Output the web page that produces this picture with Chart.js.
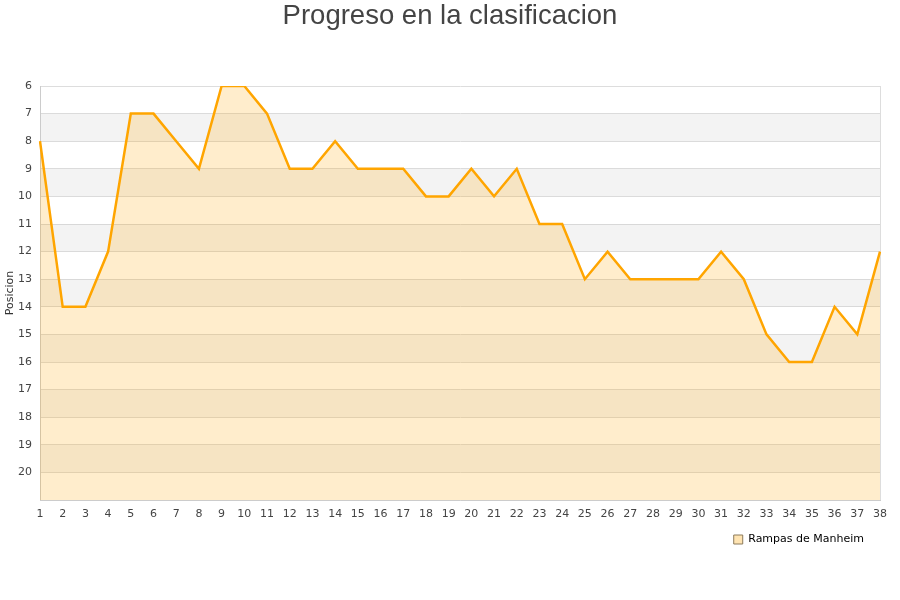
<!DOCTYPE html>
<html>
<head>
<meta charset="utf-8">
<title>Progreso en la clasificacion</title>
<script src="https://cdn.jsdelivr.net/npm/chart.js@4/dist/chart.umd.min.js"></script>
<style>
    html, body { margin: 0; padding: 0; background: #fff; }
    #wrap { width: 900px; height: 600px; }
</style>
</head>
<body>
<div id="wrap"><canvas id="posChart"></canvas></div>
<script>
    // Datos de la grafica
    const jornadas = ['1', '2', '3', '4', '5', '6', '7', '8', '9', '10',
        '11', '12', '13', '14', '15', '16', '17', '18', '19', '20',
        '21', '22', '23', '24', '25', '26', '27', '28', '29', '30',
        '31', '32', '33', '34', '35', '36', '37', '38'];
    const posiciones = [8, 14, 14, 12, 7, 7, 8, 9, 6, 6,
        7, 9, 9, 8, 9, 9, 9, 10, 10, 9,
        10, 9, 11, 11, 13, 12, 13, 13, 13, 13,
        12, 13, 15, 16, 16, 14, 15, 12];
    const equipo = 'Rampas de Manheim';
    const titulo = 'Progreso en la clasificacion';
    const tituloEje = 'Posicion';
    const posMin = 6;
    const posMax = 21;

    // Bandas alternas de fondo (gris / blanco) y borde derecho
    const bandas = {
        id: 'bandas',
        afterLayout(chart) {
            // titulo centrado en todo el lienzo
            if (chart.titleBlock) {
                chart.titleBlock.left = 0;
                chart.titleBlock.right = chart.width;
                chart.titleBlock.width = chart.width;
            }
            if (chart.legend) {
                chart.legend.right -= 6;
            }
        },
        beforeDatasetsDraw(chart) {
            const {ctx, chartArea, scales} = chart;
            const y = scales.y;
            ctx.save();
            ctx.fillStyle = 'rgba(200,200,200,0.22)';
            for (let v = posMin + 1; v < posMax; v += 2) {
                const y1 = y.getPixelForValue(v);
                const y2 = y.getPixelForValue(v + 1);
                ctx.fillRect(chartArea.left, y1, chartArea.right - chartArea.left, y2 - y1);
            }
            ctx.strokeStyle = '#dddddd';
            ctx.lineWidth = 1;
            ctx.beginPath();
            ctx.moveTo(chartArea.right + 0.5, chartArea.top);
            ctx.lineTo(chartArea.right + 0.5, chartArea.bottom);
            ctx.stroke();
            ctx.restore();
        }
    };

    const ctx = document.getElementById('posChart').getContext('2d');
    new Chart(ctx, {
        type: 'line',
        data: {
            labels: jornadas,
            datasets: [{
                label: equipo,
                data: posiciones,
                borderColor: '#FFA500',
                backgroundColor: 'rgba(255,165,0,0.2)',
                borderWidth: 2.5,
                pointRadius: 0,
                pointHoverRadius: 0,
                tension: 0,
                fill: 'start'
            }]
        },
        options: {
            responsive: true,
            maintainAspectRatio: false,
            animation: false,
            layout: {
                padding: {left: 0, right: 20, top: 0, bottom: 45}
            },
            plugins: {
                title: {
                    display: true,
                    text: titulo,
                    color: '#444444',
                    font: {family: "'Liberation Sans', Arial, sans-serif", size: 27.5, weight: 'normal'},
                    padding: {top: 0, bottom: 53}
                },
                legend: {
                    position: 'bottom',
                    align: 'end',
                    labels: {
                        color: '#000000',
                        font: {family: "'DejaVu Sans', sans-serif", size: 11},
                        boxWidth: 9,
                        boxHeight: 9,
                        padding: 10,
                        generateLabels: function(chart) {
                            return chart.data.datasets.map(function(ds, i) {
                                return {
                                    text: ds.label,
                                    fillStyle: 'rgba(255,165,0,0.3)',
                                    strokeStyle: '#8c7a5a',
                                    lineWidth: 1,
                                    fontColor: '#000000',
                                    datasetIndex: i
                                };
                            });
                        }
                    }
                },
                tooltip: {enabled: false}
            },
            scales: {
                x: {
                    offset: false,
                    grid: {display: false, drawTicks: false},
                    border: {display: true, color: '#cccccc'},
                    ticks: {
                        color: '#444444',
                        font: {family: "'DejaVu Sans', sans-serif", size: 11},
                        autoSkip: false,
                        maxRotation: 0,
                        padding: 8
                    },
                    afterFit: function(scale) { scale.height = 24; }
                },
                y: {
                    reverse: true,
                    min: posMin,
                    max: posMax,
                    grid: {color: '#dddddd', drawTicks: false},
                    border: {display: true, color: '#cccccc'},
                    ticks: {
                        stepSize: 1,
                        color: '#444444',
                        font: {family: "'DejaVu Sans', sans-serif", size: 11},
                        padding: 8,
                        callback: function(v) { return v === posMax ? '' : v; }
                    },
                    title: {
                        display: true,
                        text: tituloEje,
                        color: '#333333',
                        font: {family: "'DejaVu Sans', sans-serif", size: 11},
                        padding: {top: 4, bottom: 4}
                    },
                    afterFit: function(scale) { scale.width = 40; }
                }
            }
        },
        plugins: [bandas]
    });
</script>
</body>
</html>
